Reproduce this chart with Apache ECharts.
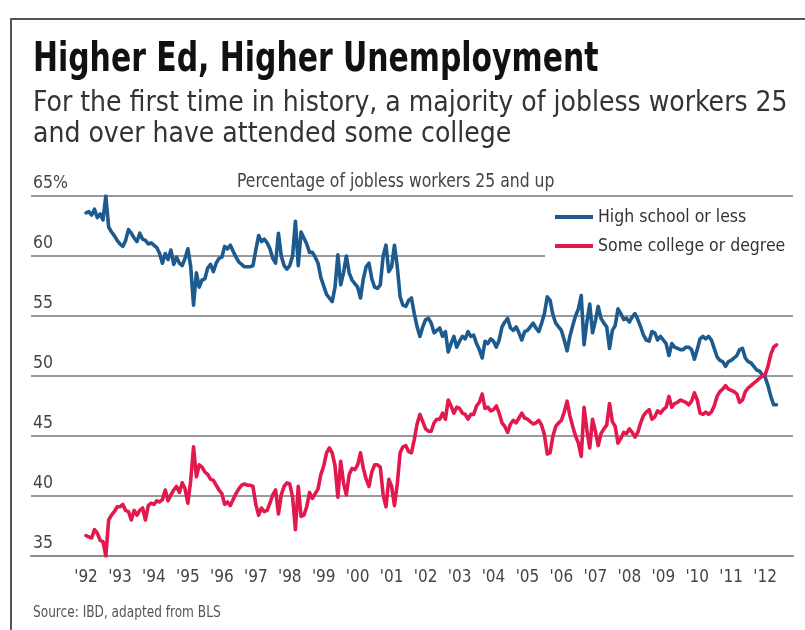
<!DOCTYPE html>
<html>
<head>
<meta charset="utf-8">
<script src="https://cdn.jsdelivr.net/npm/echarts@6/dist/echarts.min.js"></script>
<style>
  html, body { margin: 0; padding: 0; background: #fff; }
  #chart { width: 805px; height: 630px; }
</style>
</head>
<body>
<div id="chart"></div>
<script>
const startYear = 1992;
const yearTicks = [1992, 1993, 1994, 1995, 1996, 1997, 1998, 1999, 2000, 2001, 2002,
  2003, 2004, 2005, 2006, 2007, 2008, 2009, 2010, 2011, 2012];
const seriesNames = ['High school or less', 'Some college or degree'];

// monthly share of jobless workers 25+, Jan 1992 - May 2012 (one row per year)
const highSchoolOrLess = [
  63.6, 63.7, 63.4, 63.9, 63.2, 63.5, 63.0, 65.0, 62.4, 62.0, 61.7, 61.3,
  61.0, 60.8, 61.3, 62.2, 61.9, 61.5, 61.2, 61.9, 61.4, 61.3, 61.0, 61.1,
  60.9, 60.7, 60.2, 59.4, 60.2, 59.7, 60.5, 59.3, 59.9, 59.4, 59.2, 59.8,
  60.6, 59.1, 55.9, 58.6, 57.4, 58.0, 58.1, 59.0, 59.3, 58.7, 59.4, 59.8,
  59.9, 60.8, 60.6, 60.9, 60.4, 59.9, 59.5, 59.3, 59.1, 59.1, 59.1, 59.2,
  60.5, 61.7, 61.2, 61.4, 61.1, 60.6, 59.8, 59.4, 61.9, 60.0, 59.2, 58.9,
  59.2, 60.0, 62.9, 59.2, 62.0, 61.5, 61.0, 60.3, 60.3, 59.9, 59.4, 58.2,
  57.5, 56.8, 56.5, 56.2, 57.4, 60.1, 57.6, 58.6, 60.0, 58.6, 58.0, 57.7,
  57.4, 56.5, 58.1, 59.1, 59.4, 58.1, 57.4, 57.3, 57.6, 60.0, 60.9, 58.7,
  59.1, 60.9, 59.1, 56.6, 55.9, 55.8, 56.3, 56.5, 55.2, 54.1, 53.3, 54.1,
  54.7, 54.8, 54.4, 53.6, 53.8, 54.0, 53.3, 53.7, 52.0, 52.7, 53.3, 52.4,
  52.9, 53.3, 53.1, 53.7, 53.3, 53.4, 52.7, 52.2, 51.5, 52.9, 52.7, 53.1,
  52.9, 52.4, 53.0, 54.1, 54.5, 54.8, 54.0, 53.8, 54.1, 53.6, 53.0, 53.7,
  53.8, 54.1, 54.4, 54.0, 53.7, 54.4, 55.2, 56.6, 56.3, 55.1, 54.4, 54.1,
  53.8, 53.0, 52.1, 53.3, 54.2, 55.0, 55.6, 56.7, 52.6, 54.5, 56.0, 53.6,
  54.6, 55.8, 54.8, 54.4, 54.1, 52.3, 53.8, 54.2, 55.6, 55.2, 54.7, 54.8,
  54.5, 54.9, 55.2, 54.7, 54.1, 53.4, 53.0, 52.9, 53.7, 53.6, 53.0, 53.3,
  53.0, 52.7, 51.7, 52.7, 52.4, 52.3, 52.2, 52.2, 52.4, 52.4, 52.2, 51.4,
  52.2, 53.1, 53.3, 53.1, 53.3, 53.0, 52.3, 51.6, 51.3, 51.2, 50.8, 51.2,
  51.3, 51.5, 51.7, 52.2, 52.3, 51.5, 51.2, 51.1, 50.8, 50.5, 50.4, 50.1,
  49.9, 49.2, 48.3, 47.6, 47.6
];
const someCollegeOrDegree = [
  36.7, 36.6, 36.5, 37.2, 36.9, 36.3, 36.2, 35.0, 38.0, 38.4, 38.7, 39.1,
  39.1, 39.3, 38.8, 38.7, 38.0, 38.8, 38.4, 38.8, 39.0, 38.0, 39.2, 39.4,
  39.3, 39.6, 39.5, 39.7, 40.5, 39.6, 40.1, 40.5, 40.8, 40.3, 41.1, 40.6,
  39.4, 41.3, 44.1, 41.6, 42.6, 42.4, 42.0, 41.8, 41.4, 41.3, 40.9, 40.5,
  40.2, 39.3, 39.5, 39.2, 39.7, 40.2, 40.6, 40.9, 41.0, 40.9, 40.9, 40.8,
  39.3, 38.4, 39.0, 38.7, 38.8, 39.4, 40.1, 40.5, 38.5, 40.1, 40.8, 41.1,
  41.0, 39.9, 37.2, 40.8, 38.3, 38.4, 39.1, 40.3, 39.8, 40.2, 40.6, 41.8,
  42.5, 43.6, 44.0, 43.6, 42.5, 39.9, 42.9, 41.1, 40.1, 41.8, 42.3, 42.2,
  42.6, 43.6, 42.3, 41.4, 40.8, 42.0, 42.6, 42.6, 42.4, 40.1, 39.1, 41.4,
  40.8, 39.2, 41.0, 43.6, 44.1, 44.2, 43.7, 43.6, 44.7, 46.0, 46.8, 46.2,
  45.6, 45.4, 45.4, 46.1, 46.4, 46.4, 46.9, 46.4, 48.0, 47.5, 46.9, 47.4,
  47.3, 46.9, 46.8, 46.4, 46.8, 46.8, 47.5, 47.8, 48.5, 47.3, 47.4, 47.1,
  47.2, 47.5, 46.9, 46.1, 45.8, 45.3, 46.0, 46.3, 46.1, 46.5, 46.9, 46.5,
  46.4, 46.2, 46.0, 46.1, 46.3, 45.9, 45.1, 43.5, 43.6, 45.0, 45.8, 46.1,
  46.3, 47.0, 47.9, 46.7, 45.8, 45.0, 44.4, 43.3, 47.4, 45.5, 44.0, 46.4,
  45.4, 44.2, 45.2, 45.6, 45.9, 47.7, 46.2, 45.8, 44.4, 44.8, 45.3, 45.2,
  45.6, 45.3, 44.9, 45.3, 46.1, 46.7, 47.0, 47.2, 46.4, 46.6, 47.1, 46.9,
  47.2, 47.4, 48.3, 47.4, 47.7, 47.8, 48.0, 47.9, 47.8, 47.6, 47.9, 48.6,
  48.0, 46.9, 46.8, 47.0, 46.8, 47.0, 47.5, 48.3, 48.7, 48.9, 49.2, 48.9,
  48.8, 48.7, 48.5, 47.8, 48.0, 48.7, 49.0, 49.2, 49.4, 49.6, 49.8, 50.0,
  50.1, 50.8, 51.8, 52.4, 52.6
];

const FONT = "'Liberation Sans Narrow', 'DejaVu Sans Condensed', sans-serif";
const BLUE = '#1d5a8e';
const RED = '#e3184d';

// [decimal year, value]
function toPoints(values) {
  return values.map((v, i) => [startYear + i / 12, v]);
}

function lineSeries(name, values, color) {
  return {
    name: name,
    type: 'line',
    data: toPoints(values),
    showSymbol: false,
    color: color,
    lineStyle: { width: 3.6, color: color, join: 'round', cap: 'round' },
    emphasis: { disabled: true },
  };
}

// plain text block, squeezed horizontally to imitate the condensed face
function label(text, x, y, font, fill, squeeze) {
  return {
    type: 'text',
    x: x,
    y: y,
    scaleX: squeeze,
    silent: true,
    style: { text: text, font: font, fill: fill, textVerticalAlign: 'middle' },
  };
}

const chart = echarts.init(document.getElementById('chart'));
chart.setOption({
  animation: false,
  backgroundColor: '#fff',
  grid: { left: 31, right: 12, top: 196, bottom: 74 },
  xAxis: {
    type: 'value',
    min: 1990.38,
    max: 2012.82,
    splitLine: { show: false },
    axisTick: { show: false },
    axisLine: { show: true, lineStyle: { color: '#8a8a8a', width: 2 } },
    axisLabel: {
      customValues: yearTicks,
      formatter: (v) => "'" + String(v).slice(2),
      color: '#444',
      fontFamily: FONT,
      fontSize: 17,
      margin: 13,
    },
  },
  yAxis: {
    type: 'value',
    min: 35,
    max: 65,
    interval: 5,
    axisLine: { show: false },
    axisTick: { show: false },
    splitLine: { lineStyle: { color: '#9a9a9a', width: 2 } },
    axisLabel: {
      inside: true,
      margin: 2,
      verticalAlign: 'bottom',
      padding: [0, 0, 4, 0],
      formatter: (v) => (v === 65 ? '65%' : String(v)),
      color: '#444',
      fontFamily: FONT,
      fontSize: 17.5,
    },
  },
  legend: {
    data: seriesNames,
    orient: 'vertical',
    left: 545,
    top: 205,
    icon: 'rect',
    itemWidth: 38,
    itemHeight: 4,
    itemGap: 11,
    itemStyle: { borderWidth: 0 },
    padding: [3, 8, 4, 10],
    backgroundColor: '#fff',
    selectedMode: false,
    textStyle: { color: '#333', fontFamily: FONT, fontSize: 17.5 },
  },
  graphic: [
    {
      type: 'rect',
      shape: { x: 11, y: 19, width: 820, height: 640 },
      style: { fill: null, stroke: '#555', lineWidth: 2 },
      silent: true,
    },
    label('Higher Ed, Higher Unemployment', 33, 61, 'bold 40px ' + FONT, '#111', 0.83),
    label('For the first time in history, a majority of jobless workers 25', 33, 104, '28px ' + FONT, '#333', 1),
    label('and over have attended some college', 33, 135, '28px ' + FONT, '#333', 1),
    label('Percentage of jobless workers 25 and up', 237, 182, '19px ' + FONT, '#444', 0.915),
    label('Source: IBD, adapted from BLS', 33, 613, '15px ' + FONT, '#555', 0.9),
  ],
  series: [
    lineSeries(seriesNames[0], highSchoolOrLess, BLUE),
    lineSeries(seriesNames[1], someCollegeOrDegree, RED),
  ],
});
</script>
</body>
</html>
